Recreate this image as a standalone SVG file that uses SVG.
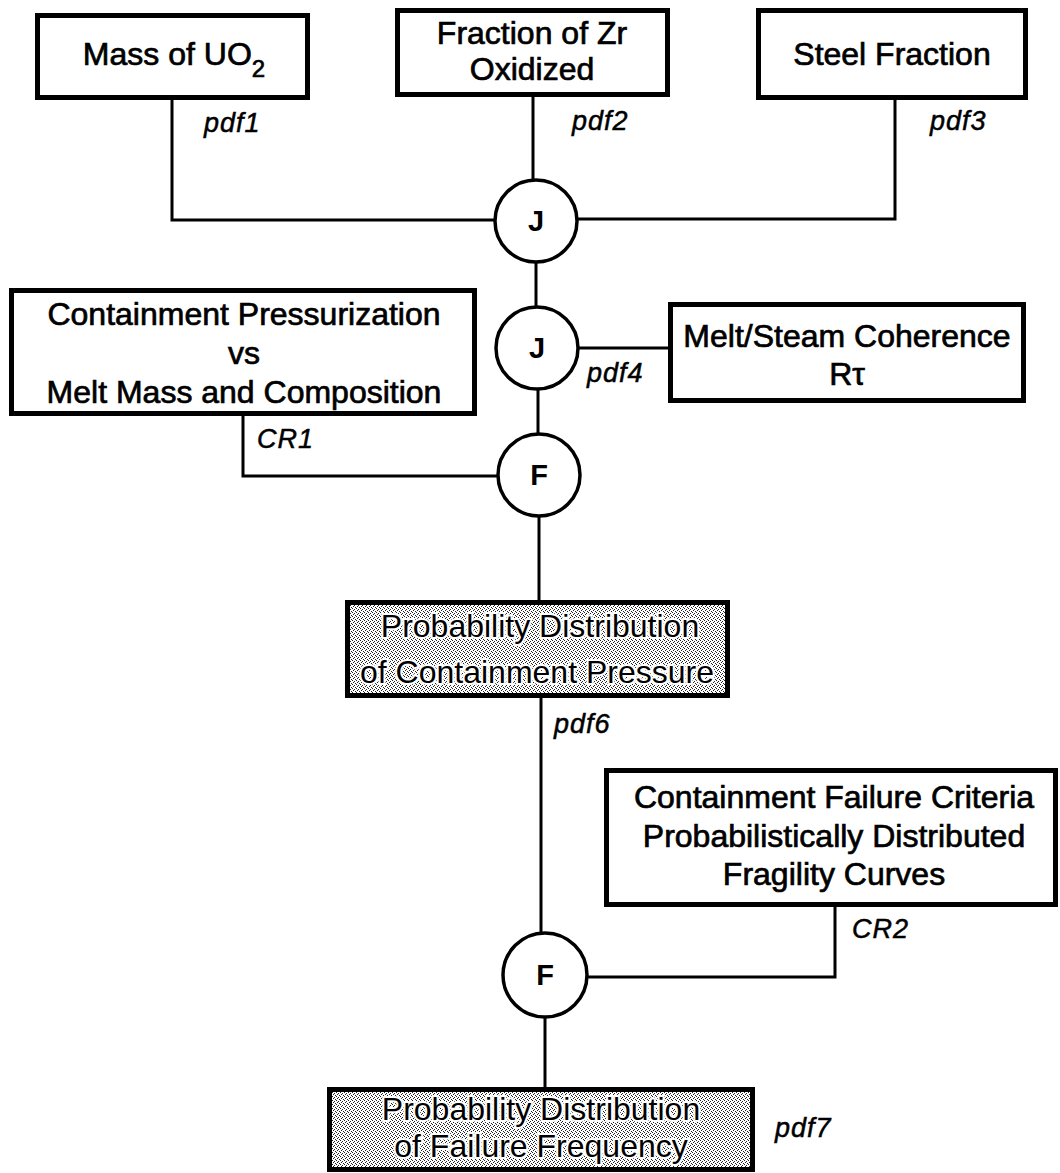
<svg xmlns="http://www.w3.org/2000/svg" width="1060" height="1173" viewBox="0 0 1060 1173">
  <defs>
    <pattern id="halftone" x="0" y="0" width="4" height="4" patternUnits="userSpaceOnUse">
      <rect x="0" y="0" width="4" height="4" fill="#ffffff"/>
      <rect x="0" y="0" width="1" height="1" fill="#222"/>
      <rect x="2" y="1" width="1" height="1" fill="#222"/>
      <rect x="1" y="2" width="1" height="1" fill="#222"/>
      <rect x="3" y="3" width="1" height="1" fill="#222"/>
    </pattern>
  </defs>
  <style>
    .box { fill: #ffffff; stroke: #000; stroke-width: 5; }
    .shaded { fill: url(#halftone); stroke: #000; stroke-width: 5; }
    .node { fill: #ffffff; stroke: #000; stroke-width: 3.5; }
    .conn { fill: none; stroke: #000; stroke-width: 3; stroke-linejoin: miter; }
    .t { font-family: "Liberation Sans", Arial, Helvetica, sans-serif; font-size: 32px; fill: #000; text-anchor: middle; stroke: #000; stroke-width: 0.7; }
    .ts { font-family: "Liberation Sans", Arial, Helvetica, sans-serif; font-size: 32px; fill: #000; text-anchor: middle; stroke: #fff; stroke-width: 4; paint-order: stroke; }
    .lbl { font-family: "Liberation Sans", Arial, Helvetica, sans-serif; font-size: 27px; font-style: italic; fill: #000; letter-spacing: 1px; stroke: #000; stroke-width: 0.5; }
    .c { font-family: "Liberation Sans", Arial, Helvetica, sans-serif; font-size: 29px; font-weight: bold; fill: #000; text-anchor: middle; }
  </style>

  <g id="connectors">
    <path class="conn" d="M172 100 V220 H495"/>
    <path class="conn" d="M533 97 V180"/>
    <path class="conn" d="M895 100 V219 H577"/>
    <path class="conn" d="M536 262 V307"/>
    <path class="conn" d="M578 348 H668"/>
    <path class="conn" d="M538 389 V434"/>
    <path class="conn" d="M243 415 V476 H498"/>
    <path class="conn" d="M539 516 V600"/>
    <path class="conn" d="M541 697 V933"/>
    <path class="conn" d="M835 906 V977 H587"/>
    <path class="conn" d="M545 1017 V1087"/>
  </g>

  <g id="node-mass-uo2">
    <rect class="box" x="37.5" y="15.5" width="270" height="82"/>
    <text class="t" x="174" y="65">Mass of UO<tspan font-size="24" dy="12">2</tspan></text>
  </g>
  <g id="node-zr-fraction">
    <rect class="box" x="397.5" y="10.5" width="270" height="84"/>
    <text class="t" x="532" y="44">Fraction of Zr</text>
    <text class="t" x="532" y="80">Oxidized</text>
  </g>
  <g id="node-steel">
    <rect class="box" x="758.5" y="10.5" width="267" height="87"/>
    <text class="t" x="892" y="65">Steel Fraction</text>
  </g>

  <g id="node-j1">
    <circle class="node" cx="536" cy="221" r="41"/>
    <text class="c" x="536" y="231">J</text>
  </g>
  <g id="node-j2">
    <circle class="node" cx="537" cy="348" r="41"/>
    <text class="c" x="537" y="358">J</text>
  </g>
  <g id="node-f1">
    <circle class="node" cx="539" cy="475" r="41"/>
    <text class="c" x="539" y="485">F</text>
  </g>
  <g id="node-f2">
    <circle class="node" cx="545" cy="975" r="42"/>
    <text class="c" x="545" y="985">F</text>
  </g>

  <g id="node-pressurization">
    <rect class="box" x="11.5" y="290.5" width="463" height="123"/>
    <text class="t" x="244" y="325" font-size="31">Containment Pressurization</text>
    <text class="t" x="244" y="364" font-size="31">vs</text>
    <text class="t" x="244" y="403" font-size="31">Melt Mass and Composition</text>
  </g>
  <g id="node-coherence">
    <rect class="box" x="670.5" y="304.5" width="353" height="96"/>
    <text class="t" x="847" y="347">Melt/Steam Coherence</text>
    <text class="t" x="847" y="385">Rτ</text>
  </g>

  <g id="node-pressure-dist">
    <rect class="shaded" x="347.5" y="602.5" width="380" height="93"/>
    <text class="ts" x="540" y="637">Probability Distribution</text>
    <text class="ts" x="537" y="683">of Containment Pressure</text>
  </g>

  <g id="node-failure-criteria">
    <rect class="box" x="606.5" y="770.5" width="449" height="134"/>
    <text class="t" x="834" y="808">Containment Failure Criteria</text>
    <text class="t" x="834" y="847">Probabilistically Distributed</text>
    <text class="t" x="834" y="885">Fragility Curves</text>
  </g>

  <g id="node-failure-dist">
    <rect class="shaded" x="329.5" y="1089.5" width="423" height="80"/>
    <text class="ts" x="541" y="1120">Probability Distribution</text>
    <text class="ts" x="541" y="1157">of Failure Frequency</text>
  </g>

  <g id="labels">
    <text class="lbl" x="204" y="132">pdf1</text>
    <text class="lbl" x="572" y="130">pdf2</text>
    <text class="lbl" x="930" y="130">pdf3</text>
    <text class="lbl" x="587" y="382">pdf4</text>
    <text class="lbl" x="257" y="448">CR1</text>
    <text class="lbl" x="554" y="733">pdf6</text>
    <text class="lbl" x="852" y="938">CR2</text>
    <text class="lbl" x="775" y="1137">pdf7</text>
  </g>
</svg>
